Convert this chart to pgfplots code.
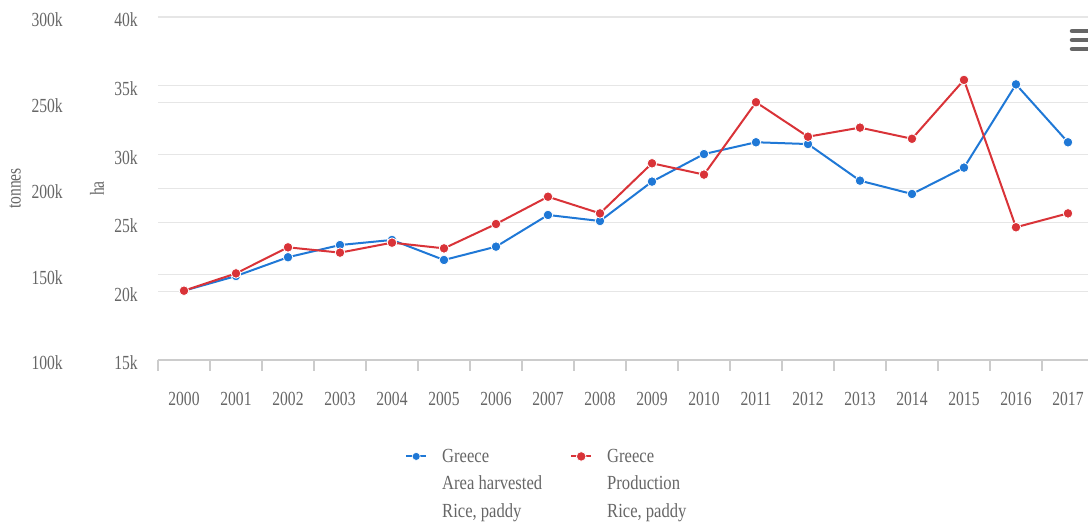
\documentclass[border=0pt]{standalone}
\usepackage{fontspec}
\setmainfont[FakeStretch=0.78]{Liberation Serif}
\newfontfamily\legfamily[FakeStretch=0.83]{Liberation Serif}
\usepackage{pgfplots}
\usepackage{pgfplotstable}
\pgfplotsset{compat=1.18}
\definecolor{blueS}{HTML}{1F78D6}
\definecolor{redS}{HTML}{D93338}
\definecolor{gridc}{HTML}{E6E6E6}
\definecolor{txt}{HTML}{666666}
\definecolor{axc}{HTML}{CCCCCC}
\newcommand\lblfont{\fontsize{20}{27}\selectfont}
\newcommand\legfont{\legfamily\fontsize{20}{27.5}\selectfont}

% Area harvested, thousand ha
\pgfplotstableread{
x ha
0 20.05
1 21.12
2 22.49
3 23.38
4 23.75
5 22.29
6 23.26
7 25.57
8 25.13
9 28.00
10 30.01
11 30.87
12 30.74
13 28.07
14 27.10
15 29.02
16 35.09
17 30.87
}\haTable

% Production, thousand tonnes
\pgfplotstableread{
x t
0 140.4
1 150.5
2 165.7
3 162.6
4 168.4
5 165.1
6 179.3
7 195.2
8 185.5
9 214.7
10 208.1
11 250.3
12 230.2
13 235.5
14 229.0
15 263.3
16 177.4
17 185.5
}\tTable

\pgfplotsset{
  base/.style={at={(158pt,165pt)}, anchor=south west, width=930pt, height=343pt,
    scale only axis, xmin=-0.5, xmax=17.385},
  /pgf/number format/assume math mode=true,
}

\begin{document}
\begin{tikzpicture}[x=1pt,y=1pt]
\path[use as bounding box] (0,0) rectangle (1088,525);

% tonnes axis: grid and labels
\begin{axis}[base, ymin=100, ymax=300,
  ytick={100,150,200,250,300}, yticklabels={100k,150k,200k,250k,300k},
  xtick=\empty, axis line style={draw=none}, major tick length=0pt,
  ymajorgrids, grid style={gridc, line width=1.3pt},
  yticklabel style={anchor=east, inner sep=0pt, xshift=-95pt, yshift=-3pt, font=\lblfont, text=txt},
  ylabel={tonnes},
  ylabel style={at={(axis description cs:0,0.5)}, anchor=center, yshift=143pt, font=\lblfont, text=txt}]
\end{axis}

% ha axis: grid, labels, x axis, blue series
\begin{axis}[base, ymin=15, ymax=40,
  ytick={15,20,25,30,35,40}, yticklabels={15k,20k,25k,30k,35k,40k},
  xtick={0,...,17},
  xticklabels={2000,2001,2002,2003,2004,2005,2006,2007,2008,2009,2010,2011,2012,2013,2014,2015,2016,2017},
  minor xtick={-0.5,0.5,...,16.5},
  axis x line*=bottom, axis y line*=left,
  y axis line style={draw=none},
  x axis line style={axc, line width=1.3pt, -},
  ymajorgrids, grid style={gridc, line width=1.3pt},
  major tick length=0pt, minor tick length=11pt, tick align=outside,
  minor tick style={axc, line width=1.2pt},
  yticklabel style={anchor=east, inner sep=0pt, xshift=-20pt, yshift=-3pt, font=\lblfont, text=txt},
  xticklabel style={anchor=center, inner sep=0pt, yshift=-39pt, font=\lblfont, text=txt},
  ylabel={ha},
  ylabel style={at={(axis description cs:0,0.5)}, anchor=center, yshift=61pt, font=\lblfont, text=txt}]
\addplot[blueS, line width=2pt, mark=*, mark size=4.8pt,
  mark options={fill=blueS, draw=white, line width=0.8pt}] table[x=x, y=ha] {\haTable};
\end{axis}

% tonnes axis: red series and legend
\begin{axis}[base, ymin=100, ymax=300, hide axis,
  legend columns=2,
  legend image code/.code={%
    \path[draw=none, fill=none] (0pt,6pt) -- (34pt,6pt);
    \draw[mark repeat=2, mark phase=2, #1] plot coordinates {(0pt,6pt) (10pt,6pt) (20pt,6pt)};},
  legend style={at={(axis description cs:0.2656,-0.2536)}, anchor=north west,
    draw=none, fill=none, inner sep=0pt, font=\legfont, text=txt,
    cells={anchor=base west},
    /tikz/every even column/.append style={column sep=26pt}}]
\addlegendimage{blueS, line width=2pt, mark=*, mark size=4pt, mark options={fill=blueS, draw=white, line width=0.6pt}}
\addlegendentry{\vtop{\hbox{Greece}\hbox{Area harvested}\hbox{Rice, paddy}}}
\addplot[redS, line width=2pt, mark=*, mark size=4.8pt,
  mark options={fill=redS, draw=white, line width=0.8pt}] table[x=x, y=t] {\tTable};
\addlegendentry{\vtop{\hbox{Greece}\hbox{Production}\hbox{Rice, paddy}}}
\end{axis}

% menu icon
\foreach \yy in {494,485,476} {
  \draw[line width=4.5pt, line cap=round, color=txt] (1072,\yy) -- (1092,\yy);
}
\end{tikzpicture}
\end{document}
